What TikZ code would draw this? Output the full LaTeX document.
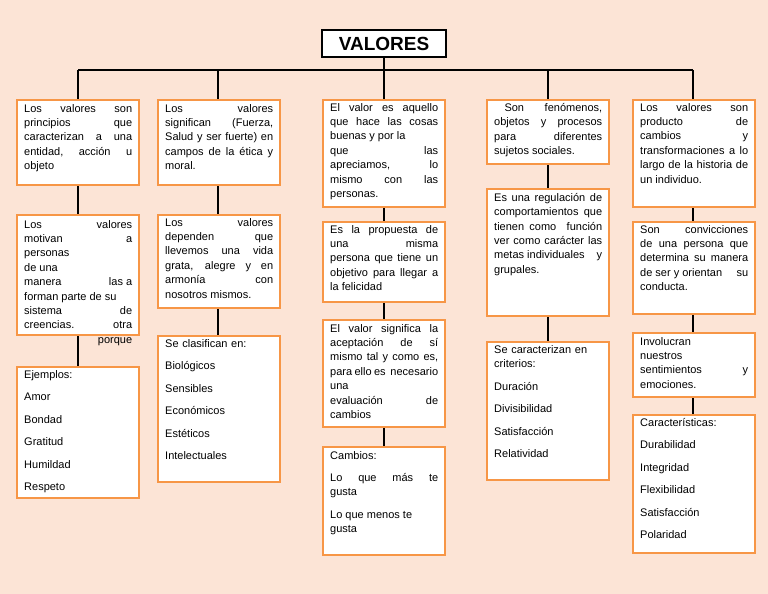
\documentclass[tikz,border=0pt]{standalone}
\usepackage{fontspec}
\setmainfont{Liberation Sans}
\hyphenpenalty=10000
\exhyphenpenalty=10000
\emergencystretch=20pt
\definecolor{bg}{HTML}{FCE4D6}
\definecolor{org}{HTML}{F79646}
\begin{document}
\begin{tikzpicture}[x=1pt,y=-1pt,
 box/.style={draw=org,line width=1.6pt,fill=white},
 txt/.style={anchor=north west,inner sep=0pt,text width=#1,align=justify,font=\fontsize{11}{14.4}\selectfont},
 txt/.default=108pt,
 lst/.style={anchor=north west,inner sep=0pt,text width=108pt,align=left,font=\fontsize{11}{22.5}\selectfont},
 con/.style={line width=1.6pt,black}]
\fill[bg] (0,0) rectangle (768,594);
\useasboundingbox (0,0) rectangle (768,594);
% connectors
\draw[con] (384,57) -- (384,70);
\draw[con] (78,70) -- (693,70);
\foreach \x/\y in {78/367,218/336,384/447,548/342,693/415}{\draw[con] (\x,70) -- (\x,\y);}
% title
\draw[line width=1.2pt,fill=white] (322,30) rectangle (446,57);
\node[font=\bfseries\fontsize{19}{22}\selectfont] (t) at (384,44) {VALORES};
% col1
\draw[box] (17,100) rectangle (139,185);
\node[txt] (a1) at (24,104) {Los\hfill valores\hfill son\\ \ principios\hfill que caracterizan a una entidad,\hfill acción\hfill u\\ \ objeto};
\draw[box] (17,215) rectangle (139,335);
\node[txt] (a2) at (24,220) {Los\hfill valores\\ motivan\hfill a\\ personas\\ de una\\ manera\hfill las a\\ forman parte de su\\ sistema\hfill de\\ \ creencias.\hfill otra\\ \mbox{}\hfill porque};
\draw[box] (17,367) rectangle (139,498);
\node[lst] (a3) at (24,370) {Ejemplos:\\Amor\\Bondad\\Gratitud\\Humildad\\Respeto};
% col2
\draw[box] (158,100) rectangle (280,185);
\node[txt] (b1) at (165,104) {Los\hfill valores\\ \ significan (Fuerza, Salud y ser fuerte) en campos de la ética y moral.};
\draw[box] (158,215) rectangle (280,308);
\node[txt] (b2) at (165,218) {Los\hfill valores\\ dependen\hfill que\\ llevemos una vida grata, alegre y en armonía\hfill con\\ \ nosotros mismos.};
\draw[box] (158,336) rectangle (280,482);
\node[lst] (b3) at (165,339) {Se clasifican en:\\Biológicos\\Sensibles\\Económicos\\Estéticos\\Intelectuales};
% col3
\draw[box] (323,100) rectangle (445,207);
\node[txt] (c1) at (330,103) {El valor es aquello que hace las cosas buenas y por la\\ que\hfill las\\ apreciamos,\hfill lo\\ mismo\hfill con\hfill las\\ personas.};
\draw[box] (323,222) rectangle (445,302);
\node[txt] (c2) at (330,225) {Es la propuesta de una\hfill misma\\ \ persona que tiene un objetivo para llegar a la felicidad};
\draw[box] (323,320) rectangle (445,427);
\node[txt] (c3) at (330,324) {El valor significa la aceptación de sí mismo tal y como es, para ello es \ necesario\hfill una\\ evaluación\hfill de\\ cambios};
\draw[box] (323,447) rectangle (445,555);
\node[txt] (c4) at (330,451) {Cambios:\\[8pt] Lo\hfill que\hfill más\hfill te\\ \ gusta\\[8pt] Lo que menos te\\ gusta};
% col4
\draw[box] (487,100) rectangle (609,164);
\node[txt] (d1) at (494,103) {\ Son\ \ fenómenos, objetos y procesos para\hfill diferentes\\ sujetos sociales.};
\draw[box] (487,189) rectangle (609,316);
\node[txt] (d2) at (494,193) {Es una regulación de comportamientos \ que tienen como \ función ver como carácter las metas individuales\hfill y\\ \ grupales.};
\draw[box] (487,342) rectangle (609,480);
\node[lst] (d3) at (494,345) {Se caracterizan en\\[-8pt] criterios:\\Duración\\Divisibilidad\\Satisfacción\\Relatividad};
% col5
\draw[box] (633,100) rectangle (755,207);
\node[txt] (e1) at (640,103) {Los\hfill valores\hfill son\\ producto\hfill de\\ cambios\hfill y\\ transformaciones a lo largo de la historia de un individuo.};
\draw[box] (633,222) rectangle (755,314);
\node[txt] (e2) at (640,225) {Son convicciones de una persona que determina su manera de ser y orientan\hfill su\\ \ conducta.};
\draw[box] (633,333) rectangle (755,397);
\node[txt] (e3) at (640,337) {Involucran\\ nuestros\\ sentimientos\hfill y\\ emociones.};
\draw[box] (633,415) rectangle (755,553);
\node[lst] (e4) at (640,418) {Características:\\Durabilidad\\Integridad\\Flexibilidad\\Satisfacción\\Polaridad};
\end{tikzpicture}
\end{document}
